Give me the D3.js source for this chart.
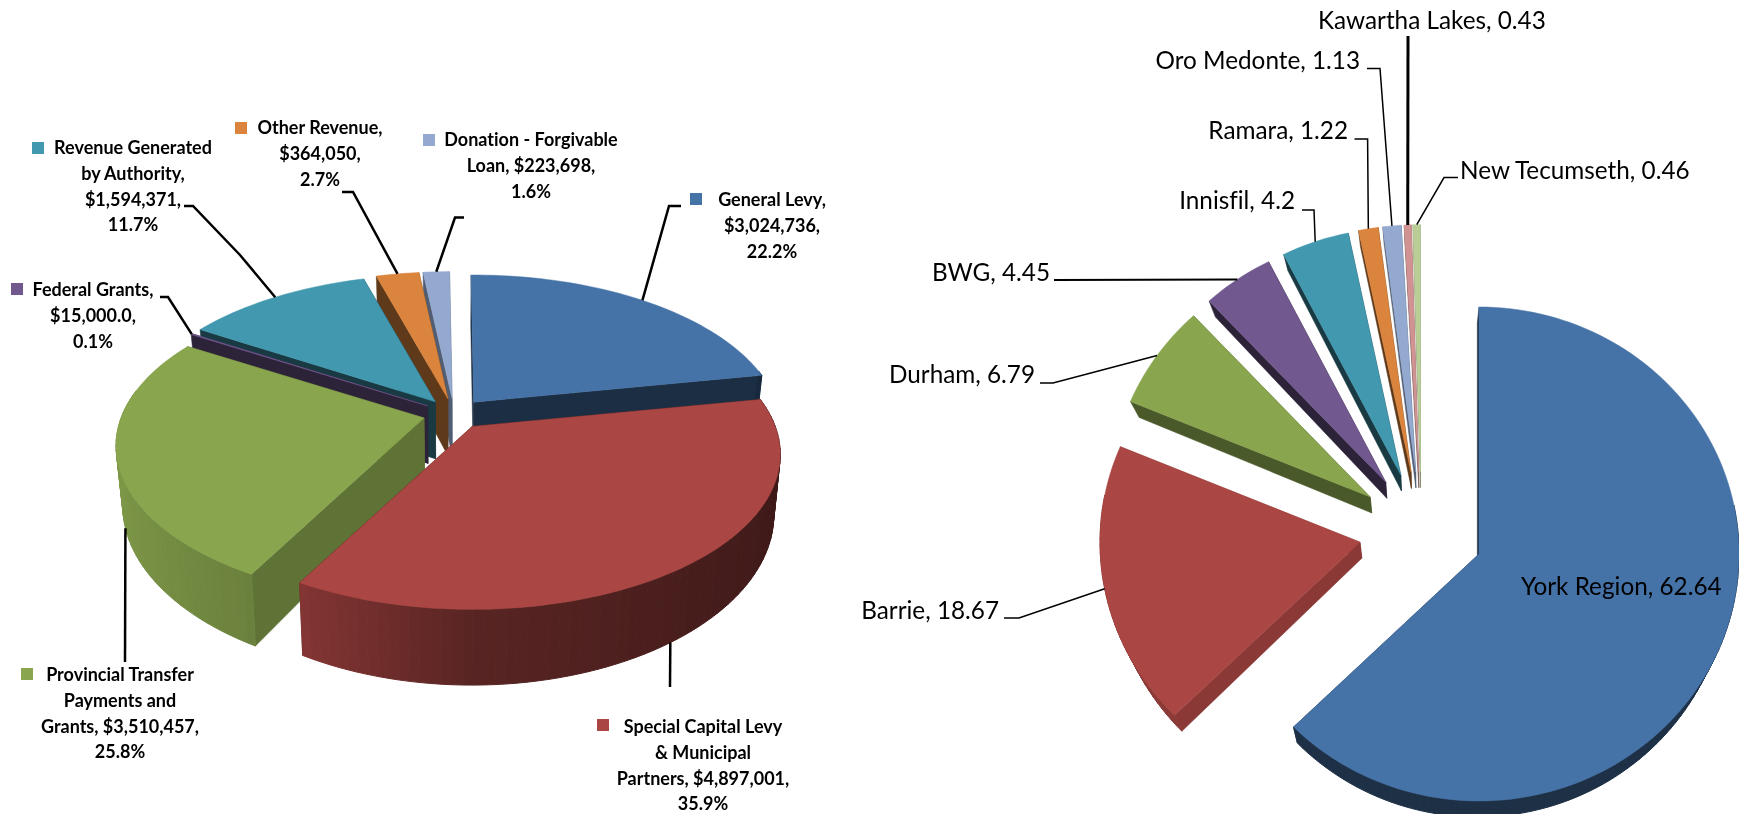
<!DOCTYPE html>
<html>
<head>
<meta charset="utf-8">
<script src="https://cdn.jsdelivr.net/npm/d3@7"></script>
<style>
    html, body { margin: 0; padding: 0; background: #fff; overflow: hidden; }
    svg { display: block; filter: blur(0.5px); }
    text { font-family: Lato, "Open Sans", sans-serif; fill: #000; font-variant-ligatures: none; }
</style>
</head>
<body>
<svg id="chart" width="1739" height="814"></svg>
<script>
// Left chart values (dollars)
const revenueNames = ["General Levy", "Special Capital Levy & Municipal Partners", "Provincial Transfer Payments and Grants", "Federal Grants", "Revenue Generated by Authority", "Other Revenue", "Donation - Forgivable Loan"];
const revenueValues = [3024736, 4897001, 3510457, 15000, 1594371, 364050, 223698];
const revenueLabels = [
    ["General Levy,", "$3,024,736,", "22.2%"],
    ["Special Capital Levy", "& Municipal", "Partners, $4,897,001,", "35.9%"],
    ["Provincial Transfer", "Payments and", "Grants, $3,510,457,", "25.8%"],
    ["Federal Grants,", "$15,000.0,", "0.1%"],
    ["Revenue Generated", "by Authority,", "$1,594,371,", "11.7%"],
    ["Other Revenue,", "$364,050,", "2.7%"],
    ["Donation - Forgivable", "Loan, $223,698,", "1.6%"]
];

// Right chart values (percent)
const regionNames = ["York Region", "Barrie", "Durham", "BWG", "Innisfil", "Ramara", "Oro Medonte", "Kawartha Lakes", "New Tecumseth"];
const regionValues = [62.64, 18.67, 6.79, 4.45, 4.2, 1.22, 1.13, 0.43, 0.46];

const palette = ["#4572A7", "#AA4643", "#89A54E", "#71588F", "#4198AF", "#DB843D", "#93A9CF", "#D19392", "#B9CD96"];
const leftColors = palette.slice(0, 7);

// How dark the flat cut faces of each wedge are, relative to its top colour
const leftCutShade = [0.4, 0.4, 0.7, 0.4, 0.38, 0.43, 0.55];
const rightCutShade = [0.42, 0.82, 0.54, 0.4, 0.38, 0.43, 0.55, 0.6, 0.7];

// Geometry of the two tilted discs
const leftDisc = { cx: 454, cy: 414, rx: 303, ry: 150, k: 0.18, depth: 58, lean: 0.02, explode: 31, turn: -0.01 };
const rightDisc = { cx: 1421.4, cy: 531, rx: 260, ry: 247, k: 0, depth: 16, lean: 0.03, explode: 62.5, turn: 0, flatWalls: true };

// Outer wall shading, light from the left
const wallShade = d3.scaleLinear().domain([-1, -0.5, 0, 1]).range([0.92, 0.78, 0.52, 0.36]);

const polygon = d3.line();
const svg = d3.select("#chart");

function shade(color, factor) {
    const c = d3.rgb(color);
    return d3.rgb(c.r * factor, c.g * factor, c.b * factor).formatHex();
}

function slicesFor(values, disc) {
    return d3.pie().sort(null).startAngle(disc.turn).endAngle(2 * Math.PI + disc.turn)(values);
}

// Returns the projection helpers for one exploded wedge
function wedgeProjector(disc, slice) {
    const mid = (slice.startAngle + slice.endAngle) / 2;
    const ax = disc.cx + disc.explode * Math.sin(mid);
    const ay = disc.cy - disc.explode * Math.cos(mid) * disc.ry / disc.rx;
    const rim = t => {
        const z = -Math.cos(t);
        const p = 1 / (1 - disc.k * z);
        return [ax + Math.sin(t) * p * disc.rx, ay + z * p * disc.ry];
    };
    // Drop a top point to the bottom of the slab
    const down = pt => {
        const z = (pt[1] - disc.cy) / disc.ry;
        return [pt[0] + (disc.cx - pt[0]) * disc.lean, pt[1] + disc.depth / (1 - disc.k * z)];
    };
    return { mid, apex: [ax, ay], rim, down };
}

function drawPie(slices, colors, cutShade, disc, order) {
    const g = svg.append("g");

    order.forEach(i => {
        const s = slices[i];
        const w = wedgeProjector(disc, s);
        const steps = Math.max(2, Math.ceil((s.endAngle - s.startAngle) / 0.03));
        const angles = d3.range(steps + 1).map(j => s.startAngle + (s.endAngle - s.startAngle) * j / steps);
        const cutColor = shade(colors[i], cutShade[i]);
        const gi = g.append("g");

        // The two flat cut faces
        [s.endAngle, s.startAngle].forEach(t => {
            const a = w.apex, b = w.rim(t);
            gi.append("path")
                .attr("d", polygon([a, b, w.down(b), w.down(a)]) + "Z")
                .attr("fill", cutColor)
                .attr("stroke", cutColor)
                .attr("stroke-width", 0.5);
        });

        // Outer curved wall as thin strips, darker to the right
        d3.pairs(angles).forEach(([t0, t1]) => {
            const tm = (t0 + t1) / 2;
            if (Math.cos(tm) > 0.2) return; // back part is hidden by the top
            const a = w.rim(t0), b = w.rim(t1);
            const c = disc.flatWalls ? cutColor : shade(colors[i], wallShade(Math.sin(tm)));
            gi.append("path")
                .attr("d", polygon([a, b, w.down(b), w.down(a)]) + "Z")
                .attr("fill", c)
                .attr("stroke", c)
                .attr("stroke-width", 1);
        });

        // Top face
        gi.append("path")
            .attr("d", polygon([w.apex].concat(angles.map(w.rim))) + "Z")
            .attr("fill", colors[i])
            .attr("stroke", colors[i])
            .attr("stroke-width", 0.5);
    });
}

// at = how far along the wedge's arc the leader attaches, 0.5 is the middle
function drawLeader(disc, slice, points, width, fromBottom, at) {
    const w = wedgeProjector(disc, slice);
    const start = w.rim(slice.startAngle + (slice.endAngle - slice.startAngle) * at);
    const first = fromBottom ? w.down(start) : start;
    svg.append("path")
        .attr("d", polygon([first].concat(points)))
        .attr("fill", "none")
        .attr("stroke", "#000")
        .attr("stroke-width", width);
}

// ---- Left chart ----
const leftSlices = slicesFor(revenueValues, leftDisc);
drawPie(leftSlices, leftColors, leftCutShade, leftDisc, [0, 6, 5, 4, 3, 2, 1]);

// Label layout: centre x, first line y, marker x/y, elbow points of the leader line
const leftLayout = [
    { x: 772, y: 200, mx: 696, my: 199, leader: [[669, 206], [681, 206]] },
    { x: 703, y: 727, mx: 603, my: 725, leader: [[670, 687]], bottom: true, at: 0.51 },
    { x: 120, y: 675, mx: 27, my: 674, leader: [[125, 662]], bottom: true, at: 0.47 },
    { x: 93, y: 290, mx: 17, my: 289, leader: [[168, 297], [160, 297]] },
    { x: 133, y: 148, mx: 38, my: 148, leader: [[240, 255], [193, 206], [184, 206]] },
    { x: 320, y: 128, mx: 241, my: 128, leader: [[353, 192], [342, 192]] },
    { x: 531, y: 140, mx: 429, my: 140, leader: [[455, 217.5], [464, 217.5]] }
];
const leftLineHeight = 25.6;

leftLayout.forEach((l, i) => {
    drawLeader(leftDisc, leftSlices[i], l.leader, 2.5, l.bottom, l.at === undefined ? 0.5 : l.at);
    svg.append("rect")
        .attr("x", l.mx - 6).attr("y", l.my - 6)
        .attr("width", 12).attr("height", 12)
        .attr("fill", leftColors[i]);
    svg.append("g").selectAll("text")
        .data(revenueLabels[i])
        .enter()
        .append("text")
        .attr("x", l.x)
        .attr("y", (d, j) => l.y + j * leftLineHeight)
        .attr("dy", "0.35em")
        .attr("text-anchor", "middle")
        .attr("font-size", "18px")
        .attr("font-weight", "bold")
        .text(d => d);
});

// ---- Right chart ----
const rightSlices = slicesFor(regionValues, rightDisc);
drawPie(rightSlices, palette, rightCutShade, rightDisc, [8, 7, 6, 5, 4, 3, 2, 1, 0]);

const rightLayout = [
    { x: 1521, y: 586, anchor: "start" },
    { x: 999, y: 610, anchor: "end", leader: [[1019, 618], [1004, 618]], width: 1.5 },
    { x: 1035, y: 374, anchor: "end", leader: [[1053, 383], [1040, 383]], width: 1.5 },
    { x: 1050, y: 272.6, anchor: "end", leader: [[1054, 280]], width: 2 },
    { x: 1295, y: 200, anchor: "end", leader: [[1314, 210], [1302, 210]], width: 1.5 },
    { x: 1348, y: 130, anchor: "end", leader: [[1367.6, 139], [1354.5, 139]], width: 1.5 },
    { x: 1360, y: 60, anchor: "end", leader: [[1380, 68.5], [1367, 68.5]], width: 1.5 },
    { x: 1318, y: 20, anchor: "start", leader: [[1408, 36]], width: 3 },
    { x: 1460, y: 170, anchor: "start", leader: [[1444, 177.5], [1458, 177.5]], width: 1.5 }
];

rightLayout.forEach((l, i) => {
    if (l.leader) drawLeader(rightDisc, rightSlices[i], l.leader, l.width, false, 0.5);
    svg.append("text")
        .attr("x", l.x)
        .attr("y", l.y)
        .attr("dy", "0.35em")
        .attr("text-anchor", l.anchor)
        .attr("font-size", "24.3px")
        .text(regionNames[i] + ", " + regionValues[i]);
});
</script>
</body>
</html>
